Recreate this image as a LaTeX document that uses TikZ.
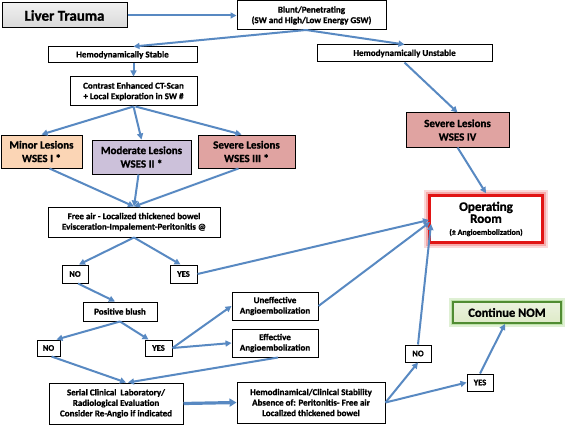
\documentclass[tikz,border=0pt]{standalone}
\usepackage{fontspec}
\setmainfont{Carlito}[BoldFont={Carlito Bold},BoldFeatures={FakeBold=1}]
\usetikzlibrary{arrows.meta,calc}
\definecolor{conn}{RGB}{88,137,194}
\definecolor{minorc}{RGB}{251,213,181}
\definecolor{modc}{RGB}{204,193,218}
\definecolor{sevc}{RGB}{224,163,161}
\definecolor{orred}{RGB}{225,20,20}
\definecolor{orglow}{RGB}{245,170,170}
\definecolor{nomg}{RGB}{80,140,50}
\definecolor{nomglow}{RGB}{190,225,170}
\definecolor{nomfill}{RGB}{222,234,200}
\begin{document}
\begin{tikzpicture}[x=1pt,y=-1pt]
\tikzset{
  box/.style={draw=black, line width=1pt, fill=white, align=center, inner sep=0pt,
    font=\fontsize{9}{10.5}\selectfont\bfseries},
  lesion/.style={box, font=\fontsize{11}{13.5}\selectfont\bfseries},
  yn/.style={box, font=\fontsize{8.5}{9}\selectfont\bfseries},
  arr/.style={draw=conn, line width=2pt, -{Triangle[length=6pt,width=6pt]}},
  thickarr/.style={draw=conn, line width=3.2pt, -{Triangle[length=7pt,width=8pt]}}
}
\useasboundingbox (0,0) rectangle (567,425);
\fill[white] (0,0) rectangle (567,425);

% nodes
\node[box, minimum width=125pt, minimum height=25pt, top color=gray!12, bottom color=gray!30,
  font=\fontsize{15}{17}\selectfont\bfseries] (liver) at (64.5,15.5) {Liver Trauma};
\node[box, minimum width=149pt, minimum height=29pt] (blunt) at (311.5,15.5)
  {Blunt/Penetrating\\(SW and High/Low Energy GSW)};
\node[box, minimum width=149pt, minimum height=16pt] (stable) at (122.5,55) {Hemodynamically Stable};
\node[box, minimum width=175pt, minimum height=17pt] (unstable) at (404.5,53.5) {Hemodynamically Unstable};
\node[box, minimum width=127pt, minimum height=29pt] (ct) at (133.5,91.5)
  {Contrast Enhanced CT-Scan\\+ Local Exploration in SW \#};
\node[lesion, fill=minorc, minimum width=81pt, minimum height=33pt] (minor) at (41.5,151.5)
  {Minor Lesions\\WSES I *};
\node[lesion, fill=modc, minimum width=99pt, minimum height=34pt] (moderate) at (141.5,157)
  {Moderate Lesions\\WSES II *};
\node[lesion, fill=sevc, minimum width=97pt, minimum height=33pt] (severe3) at (246.5,151.5)
  {Severe Lesions\\WSES III *};
\node[lesion, fill=sevc, minimum width=103pt, minimum height=34pt] (severe4) at (457.5,130)
  {Severe Lesions\\WSES IV};
% operating room with glow
\fill[orglow!45] (424,190) rectangle (548,248);
\fill[orglow] (426,192) rectangle (546,246);
\node[draw=orred, line width=2.6pt, fill=white, minimum width=113pt, minimum height=47pt,
  align=center, inner sep=0pt] (or) at (486,219)
  {\fontsize{13}{14.5}\selectfont\bfseries Operating\\\fontsize{13}{14.5}\selectfont\bfseries Room\\\fontsize{8}{10.5}\selectfont\bfseries (± Angioembolization)};
\node[box, minimum width=172pt, minimum height=30pt] (freeair) at (134,222)
  {Free air - Localized thickened bowel\\Evisceration-Impalement-Peritonitis @};
\node[yn, minimum width=26pt, minimum height=18pt] (no1) at (75,274) {NO};
\node[yn, minimum width=27pt, minimum height=18pt] (yes1) at (183.5,274) {YES};
\node[box, minimum width=74pt, minimum height=19pt] (blush) at (120,311.5) {Positive blush};
\node[yn, minimum width=23pt, minimum height=16pt] (no2) at (48.5,348) {NO};
\node[yn, minimum width=27pt, minimum height=16pt] (yes2) at (158.5,348) {YES};
\node[box, minimum width=86pt, minimum height=28pt] (uneff) at (275,306) {Uneffective\\Angioembolization};
\node[box, minimum width=86pt, minimum height=28pt] (eff) at (275,343) {Effective\\Angioembolization};
\node[box, minimum width=134pt, minimum height=41pt] (serial) at (116,403.5)
  {Serial Clinical\ \ Laboratory/\\Radiological Evaluation\\Consider Re-Angio if indicated};
\node[box, minimum width=148pt, minimum height=41pt] (hemo) at (311,402.5)
  {Hemodinamical/Clinical Stability\\Absence of: Peritonitis- Free air\\Localized thickened bowel};
\node[yn, minimum width=26pt, minimum height=17pt] (no3) at (418,353.5) {NO};
\node[yn, minimum width=26pt, minimum height=17pt] (yes3) at (480,382.5) {YES};
% continue NOM with glow
\fill[nomglow!50] (449,298) rectangle (565,327);
\fill[nomglow] (451,300) rectangle (563,325);
\node[draw=nomg, line width=1.8pt, top color=nomfill!60, bottom color=nomfill, minimum width=108pt,
  minimum height=21pt, inner sep=0pt, font=\fontsize{12.5}{15}\selectfont\bfseries] (nom) at (507,312.5) {Continue NOM};

% connectors
\coordinate (bl) at (306,30);
\coordinate (orin) at (429,220);
\draw[arr] (liver.east) -- (blunt.west);
\draw[arr] (bl) -- (stable.north -| ct.north);
\draw[arr] (bl) -- (unstable.north);
\draw[arr] (stable.south -| ct.north) -- (ct.north);
\draw[arr] (ct.south) -- (minor.north);
\draw[arr] (ct.south) -- (moderate.north);
\draw[arr] ($(ct.south)+(2,0)$) -- ($(severe3.north)+(-5,0)$);
\draw[arr] (unstable.south) -- (severe4.north);
\draw[arr] (severe4.south) -- ($(or.north)+(0,-1)$);
\draw[arr] ($(minor.south)+(8,0)$) -- (freeair.north);
\draw[arr] ($(moderate.south)+(-3,0)$) -- (freeair.north);
\draw[arr] ($(severe3.south)+(-8,0)$) -- (freeair.north);
\draw[arr] (freeair.south) -- ($(no1.north)+(4,0)$);
\draw[arr] (freeair.south) -- ($(yes1.north)+(-3,0)$);
\draw[arr] (yes1.east) -- (orin);
\draw[arr] ($(no1.south)+(3,0)$) -- ($(blush.north)+(-5,0)$);
\draw[arr] (blush.south) -- ($(no2.north)+(8,0)$);
\draw[arr] (blush.south) -- ($(yes2.north)+(-10,0)$);
\draw[arr] (yes2.east) -- (uneff.west);
\draw[arr] (yes2.east) -- (eff.west);
\draw[arr] (uneff.east) -- ($(orin)+(1,2)$);
\draw[arr] ($(no2.south)+(3,0)$) -- ($(serial.north)+(10,0)$);
\draw[arr] ($(eff.south)+(3,0)$) -- ($(serial.north)+(12,0)$);
\draw[thickarr] (serial.east) -- (hemo.west);
\draw[arr] (hemo.east) -- (no3.south);
\draw[arr] (hemo.east) -- (yes3.west);
\draw[arr] (no3.north) -- ($(orin)+(2,4)$);
\draw[arr] (yes3.north) -- ($(nom.south)+(-2,0)$);
\end{tikzpicture}
\end{document}
